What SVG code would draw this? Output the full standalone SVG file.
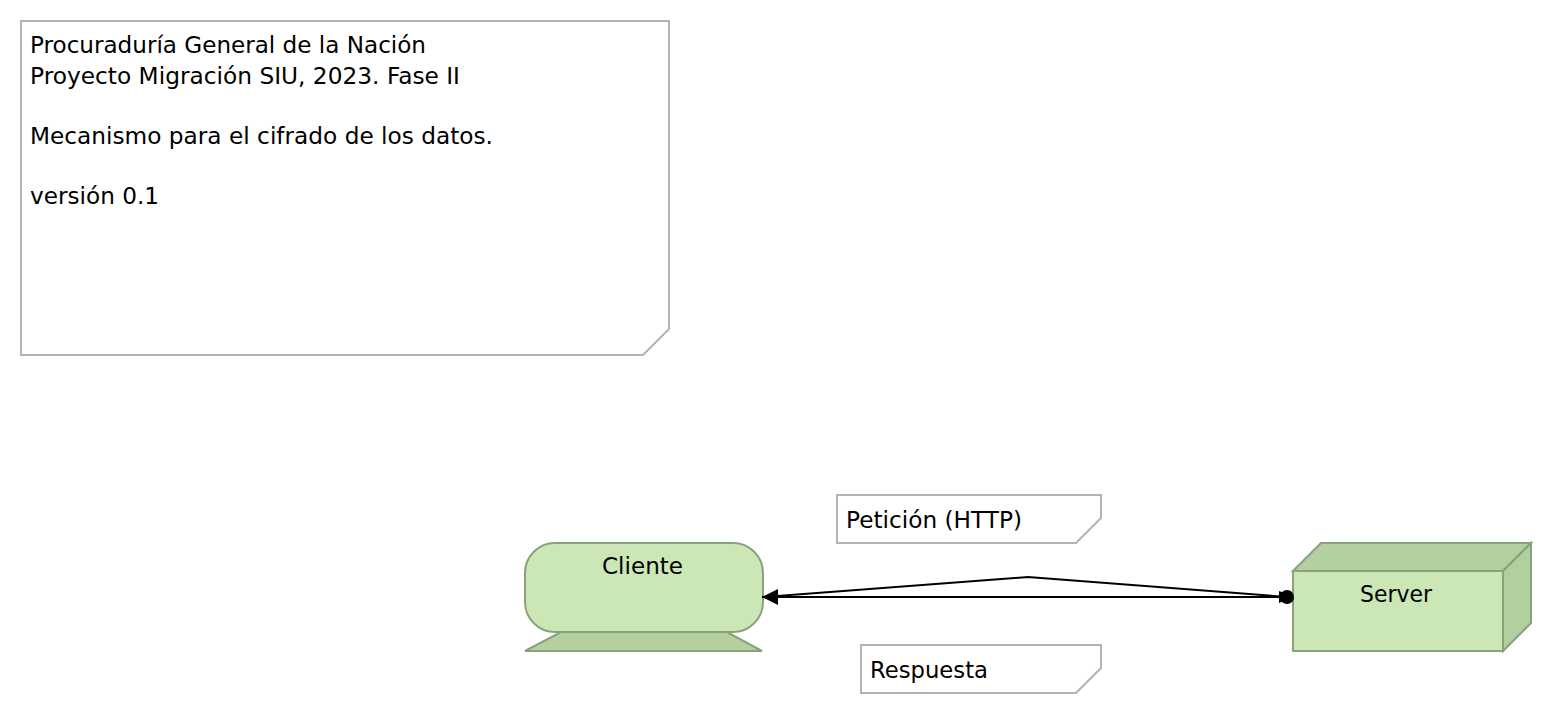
<svg xmlns="http://www.w3.org/2000/svg" width="1552" height="714" viewBox="0 0 1552 714">
<style>
text{font-family:"DejaVu Sans","Liberation Sans",sans-serif;font-size:22.5px;fill:#000}
.note{fill:#fff;stroke:#b3b3b3;stroke-width:2}
.body{fill:#cbe7b6;stroke:#8aa27a;stroke-width:2}
.dark{fill:#b4cfa0;stroke:#8aa27a;stroke-width:2}
.side{fill:#b2cfa0;stroke:#8aa27a;stroke-width:2}
.c{fill:none;stroke:#000;stroke-width:2}
</style>
<defs>
<marker id="arrow" markerUnits="userSpaceOnUse" markerWidth="18" markerHeight="18" refX="17" refY="9" orient="auto"><path d="M17 9L1 1V17Z" fill="#000"/></marker>
<marker id="dot" markerUnits="userSpaceOnUse" markerWidth="18" markerHeight="18" refX="9" refY="9" orient="0"><path d="M1 3L9 6V12L1 15Z" fill="#000"/><circle cx="9" cy="9" r="7" fill="#000"/></marker>
</defs>
<g id="title-note">
<path class="note" d="M21 21H669V329L643 355H21Z"/>
<text x="30" y="53" textLength="396" lengthAdjust="spacingAndGlyphs">Procuraduría General de la Nación</text>
<text x="30" y="84" textLength="430" lengthAdjust="spacingAndGlyphs">Proyecto Migración SIU, 2023. Fase II</text>
<text x="30" y="144" textLength="463" lengthAdjust="spacingAndGlyphs">Mecanismo para el cifrado de los datos.</text>
<text x="30" y="203.500" textLength="129" lengthAdjust="spacingAndGlyphs">versión 0.1</text>
</g>
<g id="peticion-note">
<path class="note" d="M837 495H1101V518L1076 543H837Z"/>
<text x="846" y="528" textLength="176" lengthAdjust="spacingAndGlyphs">Petición (HTTP)</text>
</g>
<g id="respuesta-note">
<path class="note" d="M861 645H1101V668L1076 693H861Z"/>
<text x="870" y="678" textLength="118" lengthAdjust="spacingAndGlyphs">Respuesta</text>
</g>
<g id="cliente">
<path class="dark" d="M525 651L561 632H727L762 651Z"/>
<rect class="body" x="525" y="543" width="238" height="89" rx="30" ry="30"/>
<text x="602" y="574" textLength="81" lengthAdjust="spacingAndGlyphs">Cliente</text>
</g>
<g id="server">
<path class="dark" d="M1293 571L1321 543H1531L1503 571Z"/>
<path class="side" d="M1503 571L1531 543V623L1503 651Z"/>
<rect class="body" x="1293" y="571" width="210" height="80"/>
<text x="1360" y="602" textLength="72" lengthAdjust="spacingAndGlyphs">Server</text>
</g>
<g id="connectors">
<path class="c" d="M1287 597H762" marker-end="url(#arrow)"/>
<path class="c" d="M764 597L1028 577L1287 597" marker-end="url(#dot)"/>
</g>
</svg>
